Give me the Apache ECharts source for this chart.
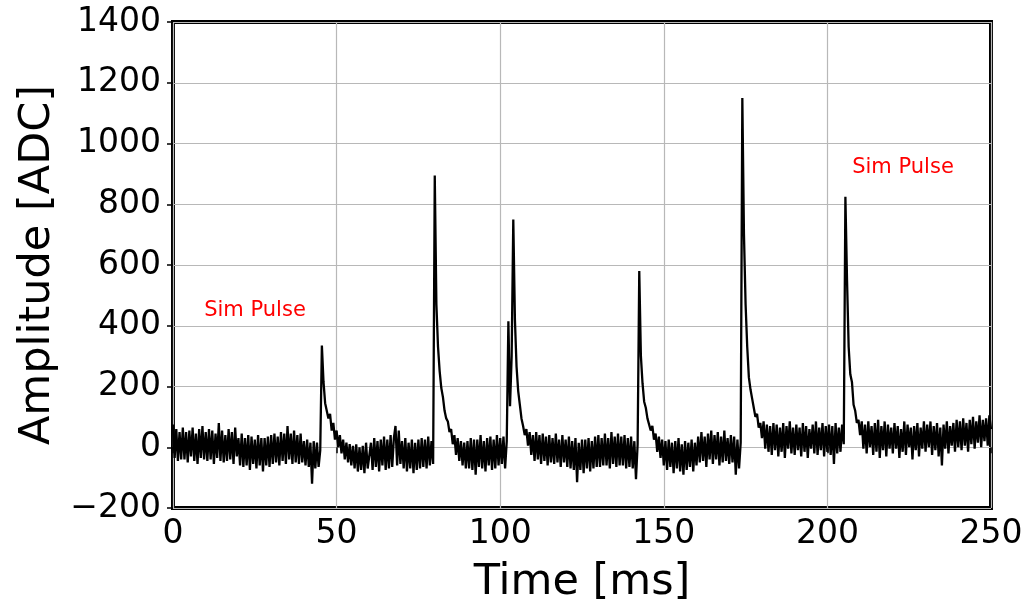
<!DOCTYPE html>
<html>
<head>
<meta charset="utf-8">
<script src="https://cdn.jsdelivr.net/npm/echarts@6/dist/echarts.min.js"></script>
<style>
  html, body { margin: 0; background: #fff; }
  #chart { width: 1030px; height: 602px; }
</style>
</head>
<body>
<div id="chart"></div>
<script>
// trace, one sample every 0.5 ms starting at t = 0
var sampleStep = 0.5;
var amplitude = [
  75,-35,60,-45,50,-40,65,-40,50,-50,55,-30,65,-45,45,-55,60,-35,70,-40,       // 0
  50,-45,60,-40,55,-55,45,-35,80,-45,55,-50,40,-45,60,-40,50,-55,65,-30,       // 10
  30,-60,45,-65,30,-60,40,-75,35,-55,25,-70,40,-60,30,-80,30,-60,35,-65,       // 20
  40,-55,45,-50,35,-60,50,-45,45,-55,70,-40,45,-55,55,-50,40,-55,45,-50,       // 30
  20,-60,25,-65,15,-120,20,-70,15,-65,-10,335,215,145,140,95,110,55,80,25,     // 40
  55,0,40,-20,25,-40,15,-50,10,-60,5,-70,10,-80,0,-75,5,-85,15,-70,            // 50
  -70,15,-75,30,-65,20,-80,25,-60,35,-75,25,-70,40,-65,30,70,-60,55,-55,       // 60
  20,-70,30,-80,15,-70,25,-85,15,-75,25,-70,30,-65,25,-70,35,-60,20,-55,       // 70
  895,470,330,250,195,165,120,95,85,50,60,10,40,-25,30,-45,20,-60,15,-70,      // 80
  20,-70,30,-75,25,-90,25,-65,40,-70,20,-80,30,-60,35,-75,25,-70,40,-60,       // 90
  30,-55,35,-70,20,415,135,300,750,420,265,185,140,95,70,40,60,5,50,-25,       // 100
  40,-45,50,-40,40,-55,45,-45,35,-60,40,-50,30,-55,45,-50,25,-65,40,-50,       // 110
  25,-65,35,-70,20,-75,30,-115,15,-75,25,-85,25,-70,30,-80,20,-70,35,-65,      // 120
  40,-65,30,-60,45,-60,30,-70,50,-55,35,-65,45,-60,35,-60,40,-70,30,-65,       // 130
  35,-70,20,-105,10,580,300,210,150,130,95,100,55,70,25,45,-15,35,-35,25,      // 140
  -60,20,-75,25,-65,15,-85,20,-70,30,-80,10,-90,20,-75,15,-65,25,-80,15,       // 150
  -60,35,-50,50,-45,35,-65,45,-40,55,-55,40,-40,50,-60,35,-50,55,-45,30,       // 160
  -55,40,-50,35,-90,25,-70,15,1150,700,470,330,230,190,160,130,100,110,65,80,  // 170
  30,85,-5,75,-15,70,-25,80,-10,75,-30,65,-15,80,-35,70,-5,85,-20,65,          // 180
  -25,75,-10,65,-30,80,-15,70,-35,60,-5,75,-20,85,-25,65,-10,80,-30,70,        // 190
  -15,75,-25,70,-55,80,-20,65,-15,75,10,825,550,330,240,215,140,120,80,90,     // 200
  40,85,-5,75,-20,85,0,70,-25,80,-15,90,-35,70,-10,85,-30,75,-5,65,            // 210
  -20,80,-5,70,-35,60,-15,85,-25,75,0,65,-40,70,-10,80,-30,65,-5,85,           // 220
  -15,75,0,85,-25,70,-10,80,-30,65,-60,75,-5,85,-20,70,5,80,-15,90,            // 230
  0,85,-10,95,5,80,-15,90,10,100,-5,85,15,105,0,90,20,95,5,105,                // 240
  60                                                                           // 250
];
var noteText = 'Sim Pulse';

var points = amplitude.map(function (v, i) { return [i * sampleStep, v]; });

var font = '"DejaVu Sans", sans-serif';
function minus(v) { return String(v).replace('-', '\u2212'); }

var chart = echarts.init(document.getElementById('chart'));
chart.setOption({
  animation: false,
  grid: {
    left: 173, right: 39, top: 22, bottom: 94,
    outerBoundsMode: 'none',
    show: true, borderColor: '#000', borderWidth: 4, backgroundColor: 'transparent'
  },
  xAxis: {
    type: 'value',
    min: 0, max: 250, interval: 50,
    name: 'Time [ms]',
    nameLocation: 'middle',
    nameGap: 53,
    nameTextStyle: { fontFamily: font, fontSize: 43, color: '#000' },
    axisLine: { show: false },
    axisTick: { show: true, length: 6, lineStyle: { color: '#000', width: 1.5 } },
    axisLabel: { fontFamily: font, fontSize: 33, color: '#000', margin: 10, formatter: minus },
    splitLine: { show: true, lineStyle: { color: '#b8b8b8', width: 1.2 } }
  },
  yAxis: {
    type: 'value',
    min: -200, max: 1400, interval: 200,
    name: 'Amplitude [ADC]',
    nameLocation: 'middle',
    nameGap: 114,
    nameTextStyle: { fontFamily: font, fontSize: 43, color: '#000' },
    axisLine: { show: false },
    axisTick: { show: true, length: 6, lineStyle: { color: '#000', width: 1.5 } },
    axisLabel: { fontFamily: font, fontSize: 33, color: '#000', margin: 12, formatter: minus },
    splitLine: { show: true, lineStyle: { color: '#b8b8b8', width: 1.2 } }
  },
  series: [{
    type: 'line',
    data: points,
    showSymbol: false,
    sampling: null,
    lineStyle: { color: '#000', width: 2.3 },
    z: 3
  }],
  graphic: [
    { type: 'text', x: 255, y: 311, z: 10,
      style: { text: noteText, fill: '#ff0000', font: '21px ' + font, align: 'center', verticalAlign: 'middle' } },
    { type: 'text', x: 903, y: 168, z: 10,
      style: { text: noteText, fill: '#ff0000', font: '21px ' + font, align: 'center', verticalAlign: 'middle' } }
  ]
});
</script>
</body>
</html>
